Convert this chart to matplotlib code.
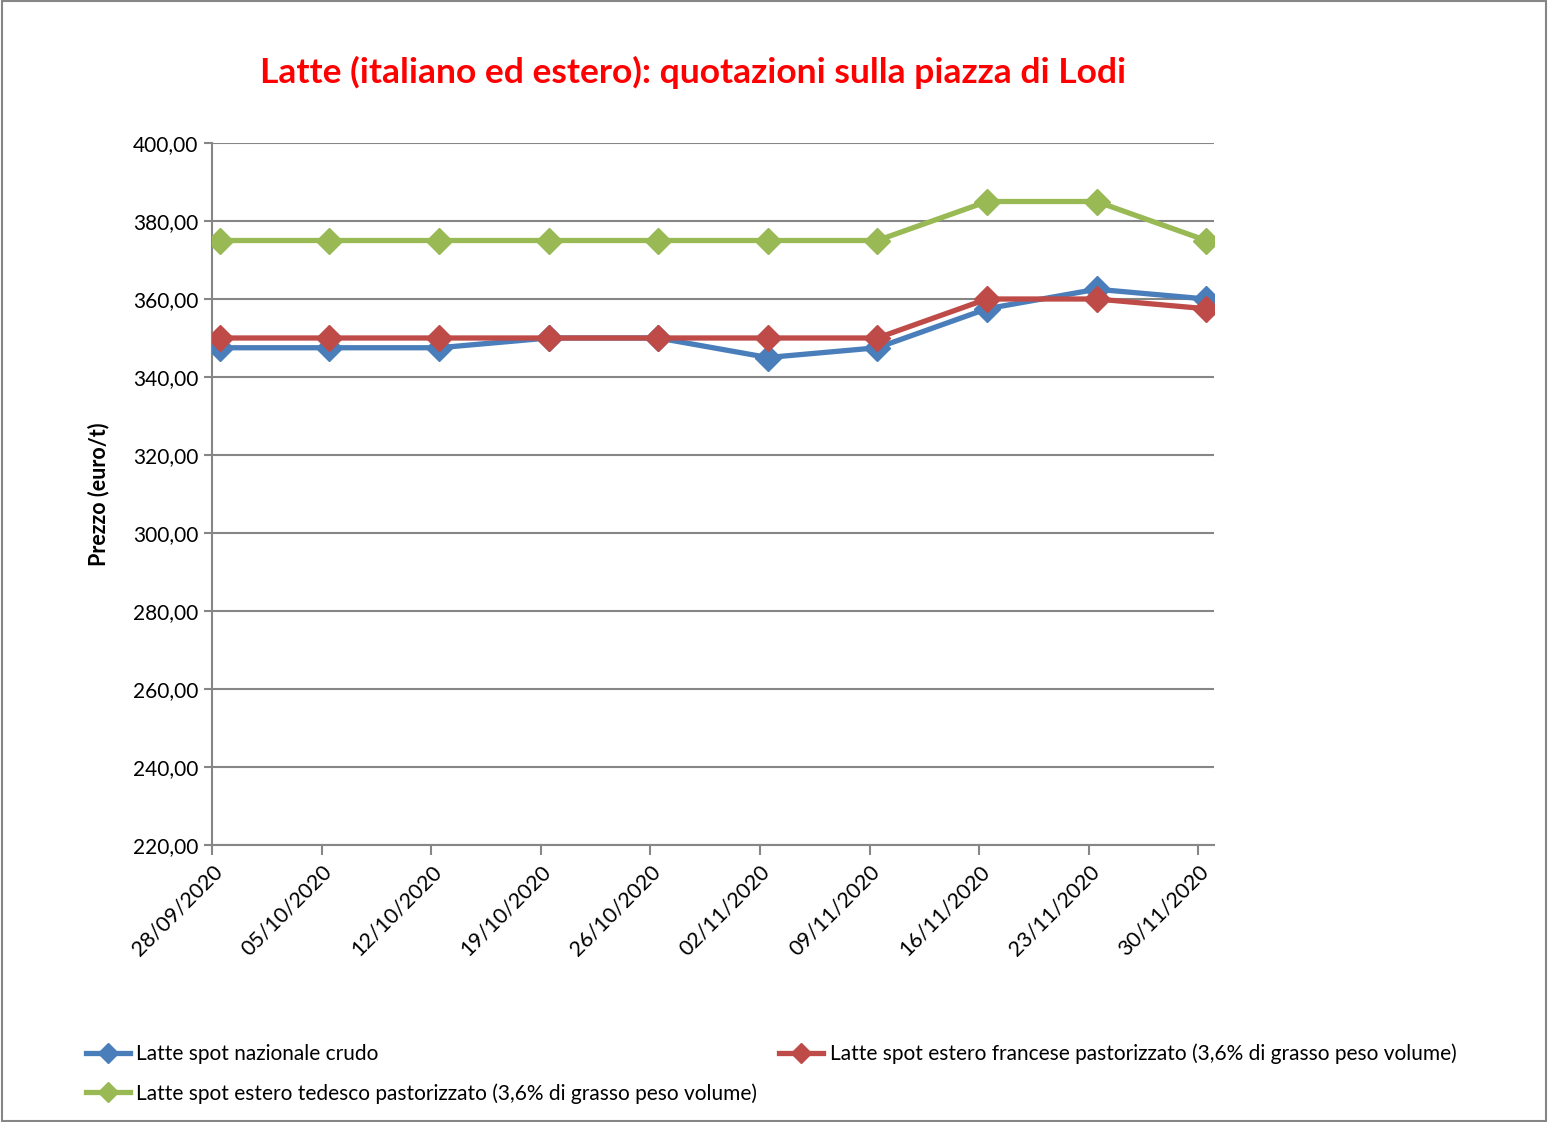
import matplotlib
matplotlib.use("Agg")
import matplotlib.pyplot as plt
import pandas as pd
from matplotlib.patches import Rectangle
from matplotlib.ticker import FuncFormatter

dates = ["28/09/2020", "05/10/2020", "12/10/2020", "19/10/2020", "26/10/2020",
         "02/11/2020", "09/11/2020", "16/11/2020", "23/11/2020", "30/11/2020"]
nazionale = [347.5, 347.5, 347.5, 350.0, 350.0, 345.0, 347.5, 357.5, 362.5, 360.0]
francese = [350.0, 350.0, 350.0, 350.0, 350.0, 350.0, 350.0, 360.0, 360.0, 357.5]
tedesco = [375.0, 375.0, 375.0, 375.0, 375.0, 375.0, 375.0, 385.0, 385.0, 375.0]
labels = ["Latte spot nazionale crudo",
          "Latte spot estero francese pastorizzato (3,6% di grasso peso volume)",
          "Latte spot estero tedesco pastorizzato (3,6% di grasso peso volume)"]
title = "Latte (italiano ed estero): quotazioni sulla piazza di Lodi"
ylabel = "Prezzo (euro/t)"
yticks = [220, 240, 260, 280, 300, 320, 340, 360, 380, 400]

plt.rcParams['font.family'] = ['Lato', 'DejaVu Sans']

d = pd.to_datetime(dates, format="%d/%m/%Y")
days = (d - d[0]).days.values.astype(float)
xpts = days + 0.5  # Excel date axis: points centred in day unit

fig = plt.figure(figsize=(15.48, 11.22), dpi=100)
fig.patches.append(Rectangle((0.001, 0.001), 0.998, 0.998, transform=fig.transFigure,
                             fill=False, edgecolor='#868686', linewidth=1.5))
ax = fig.add_axes([212/1548, 1-845/1122, (1214-212)/1548, (845-143)/1122])

colors = ['#4A7EBB', '#BE4B48', '#98B954']
series = [nazionale, francese, tedesco]
handles = []
for vals, c, lab in zip(series, colors, labels):
    h, = ax.plot(xpts, vals, color=c, lw=3.8, marker='D', ms=13, mec=c, mfc=c,
                 label=lab, solid_joinstyle='round', zorder=3)
    handles.append(h)
ax.set_xlim(0, days[-1] + 1)
ax.set_ylim(220, 400)
ax.set_yticks(yticks)
ax.yaxis.set_major_formatter(FuncFormatter(lambda v, p: f"{v:.2f}".replace('.', ',')))
ax.set_xticks(days)
ax.set_xticklabels(dates, rotation=45, ha='right', rotation_mode='anchor', fontsize=15.5)
ax.tick_params(axis='y', labelsize=15, length=6, width=1.5, color='#868686', pad=4)
ax.tick_params(axis='x', length=7, width=1.5, color='#868686', pad=5)
ax.grid(axis='y', color='#868686', lw=1.5, zorder=0)
ax.set_axisbelow(True)
for s in ['top', 'right']:
    ax.spines[s].set_visible(False)
for s in ['left', 'bottom']:
    ax.spines[s].set_color('#868686')
    ax.spines[s].set_linewidth(1.5)
ax.set_ylabel(ylabel, fontsize=15.5, fontweight='bold', labelpad=17)

fig.text(693/1548, 1-72/1122, title, color='#FF0000', fontsize=25.5, fontweight='bold',
         ha='center', va='center')

leg = fig.legend([handles[0], handles[2], handles[1]],
                 [labels[0], labels[2], labels[1]],
                 ncol=2, loc='upper left', bbox_to_anchor=(67/1548, 1-1025/1122),
                 frameon=False, fontsize=15, handlelength=2.1, columnspacing=1.05,
                 handletextpad=0.33, labelspacing=0.9, markerscale=0.75)
for lh in leg.get_lines():
    lh.set_linewidth(3.8)

fig.savefig("out.png", dpi=100)
